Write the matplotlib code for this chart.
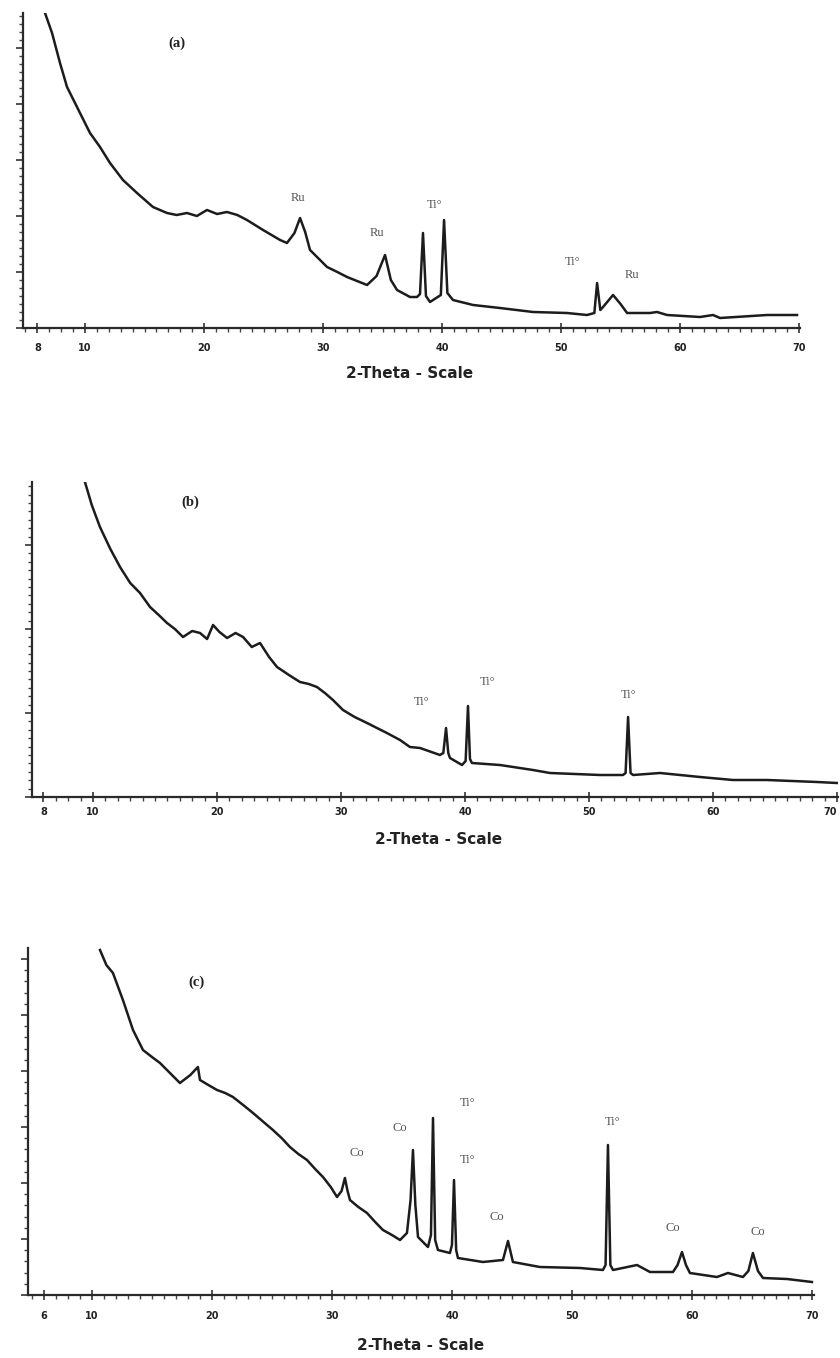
import matplotlib.pyplot as plt
from matplotlib.ticker import MultipleLocator

# (a) pattern
a_theta = [6.64, 7.23, 7.90, 8.49, 9.58, 10.42, 11.26, 12.10, 13.19, 14.37, 15.71, 16.89,
           17.7, 18.57, 19.4, 20.25, 21.1, 21.93, 22.8, 23.61, 24.96, 26.39, 26.97, 27.6,
           28.07, 28.5, 28.91, 30.34, 31.2, 32.02, 33.70, 34.5, 35.21, 35.7, 36.22, 37.31,
           37.9, 38.15, 38.40, 38.65, 38.99, 39.9, 40.17, 40.45, 40.92, 42.61, 44.87,
           47.65, 50.50, 52.18, 52.8, 53.03, 53.3, 53.53, 54.37, 55.0, 55.55, 57.48,
           58.07, 58.91, 61.68, 62.77, 63.36, 67.31, 69.83]
a_counts = [315, 295, 265, 241, 215, 195, 181, 165, 148, 135, 121, 115,
            113, 115, 112, 118, 114, 116, 113, 108, 98, 88, 85, 95,
            110, 96, 78, 61, 56, 51, 43, 52, 73, 48, 38, 31,
            31, 34, 95, 32, 26, 33, 108, 35, 28, 23, 20,
            16, 15, 13, 15, 45, 18, 21, 33, 24, 15, 15,
            16, 13, 11, 13, 10, 13, 13]
a_names = ['Ru', 'Ru', 'Ti°', 'Ti°', 'Ru']
a_name_theta = [27.9, 34.54, 39.41, 51.0, 55.97]
a_name_counts = [130, 95, 123, 66, 53]

# (b) pattern
b_theta = [9.35, 9.9, 10.56, 11.4, 12.18, 13.0, 13.79, 14.6, 15.3, 15.97, 16.6, 17.26,
           18.0, 18.63, 19.2, 19.68, 20.2, 20.81, 21.5, 22.1, 22.8, 23.47, 24.2, 24.84,
           25.8, 26.69, 27.4, 28.06, 28.7, 29.35, 30.16, 31.1, 32.1, 33.7, 34.76, 35.56,
           36.37, 37.98, 38.25, 38.47, 38.65, 38.79, 39.76, 40.05, 40.24, 40.4, 40.56,
           42.82, 45.48, 46.85, 50.89, 52.74, 52.95, 53.15, 53.35, 53.55, 55.73, 58.95,
           61.61, 64.35, 68.39, 70.0]
b_counts = [315, 292, 270, 248, 230, 214, 204, 190, 182, 174, 168, 160,
            166, 164, 158, 172, 165, 159, 164, 160, 150, 154, 140, 130,
            122, 115, 113, 110, 104, 97, 87, 80, 74, 64, 57, 50,
            49, 42, 44, 69, 44, 39, 32, 36, 91, 38, 34,
            32, 27, 24, 22, 22, 24, 80, 24, 22, 24, 20,
            17, 17, 15, 14]
b_names = ['Ti°', 'Ti°', 'Ti°']
b_name_theta = [36.53, 41.85, 53.15]
b_name_counts = [95, 115, 102]

# (c) pattern
c_theta = [10.67, 11.2, 11.75, 12.58, 13.42, 14.25, 15.0, 15.67, 16.5, 17.33, 18.2, 18.83,
           19.0, 19.7, 20.42, 21.1, 21.75, 22.6, 23.42, 24.2, 25.08, 25.8, 26.5, 27.2,
           27.92, 28.6, 29.25, 29.9, 30.42, 30.8, 31.08, 31.3, 31.5, 32.2, 32.92, 33.6,
           34.25, 35.0, 35.67, 36.25, 36.55, 36.75, 36.95, 37.17, 38.0, 38.25, 38.42,
           38.6, 38.83, 39.83, 40.0, 40.17, 40.35, 40.5, 42.58, 44.25, 44.67, 45.08,
           47.33, 50.67, 52.58, 52.8, 53.0, 53.2, 53.42, 55.42, 56.5, 58.42, 58.8,
           59.17, 59.5, 59.83, 62.08, 63.0, 64.25, 64.7, 65.08, 65.5, 65.92, 67.92, 70.0]
c_counts = [345, 330, 322, 295, 265, 245, 238, 232, 222, 212, 220, 228,
            215, 210, 205, 202, 198, 190, 182, 174, 165, 157, 148, 141,
            135, 126, 118, 108, 98, 104, 117, 104, 95, 88, 82, 73,
            65, 60, 55, 62, 95, 145, 90, 58, 48, 60, 177,
            55, 45, 42, 50, 115, 45, 37, 33, 35, 54, 33,
            28, 27, 25, 30, 150, 30, 25, 30, 23, 23, 30,
            43, 30, 22, 18, 22, 18, 24, 42, 24, 17, 16, 13]
c_names = ['Co', 'Co', 'Ti°', 'Ti°', 'Co', 'Ti°', 'Co', 'Co']
c_name_theta = [32.08, 35.67, 41.33, 41.33, 43.75, 53.42, 58.42, 65.5]
c_name_counts = [142, 167, 192, 135, 78, 173, 67, 63]

tick_pos = [6, 10, 20, 30, 40, 50, 60, 70]
tick_text_ab = ['8', '10', '20', '30', '40', '50', '60', '70']
tick_text_c = ['6', '10', '20', '30', '40', '50', '60', '70']

W, H = 840, 1358
fig = plt.figure(figsize=(W / 100, H / 100), dpi=100)


def panel(left, right, bottom, top, xlim, theta, counts, names, name_theta, name_counts,
          tag, tag_pos, tick_text, ymajor, yminor, xlabel_x, xlabel_y, pad):
    ax = fig.add_axes([left / W, 1 - bottom / H, (right - left) / W, (bottom - top) / H])
    ax.plot(theta, counts, color='#1c1c1c', lw=1.8, solid_joinstyle='round')
    ax.set_xlim(*xlim)
    ax.set_ylim(0, bottom - top)
    for s in ['top', 'right']:
        ax.spines[s].set_visible(False)
    for s in ['left', 'bottom']:
        ax.spines[s].set_color('#2a2a2a')
        ax.spines[s].set_linewidth(1.6)
    ax.set_xticks(tick_pos)
    ax.set_xticklabels(tick_text, fontsize=7, fontweight='heavy', family='DejaVu Sans',
                       color='#222')
    ax.xaxis.set_minor_locator(MultipleLocator(1))
    ax.yaxis.set_major_locator(MultipleLocator(ymajor))
    ax.yaxis.set_minor_locator(MultipleLocator(yminor))
    ax.set_yticklabels([])
    ax.tick_params(axis='x', which='major', direction='inout', length=7, width=1.2,
                   color='#333', pad=pad)
    ax.tick_params(axis='x', which='minor', direction='out', length=3, width=1.0, color='#444')
    ax.tick_params(axis='y', which='major', direction='out', length=5, width=1.2, color='#333')
    ax.tick_params(axis='y', which='minor', direction='out', length=3, width=1.0, color='#444')
    for n, t, c in zip(names, name_theta, name_counts):
        ax.text(t, c, n, fontsize=9, family='Liberation Serif', color='#555',
                ha='center', va='center')
    ax.text(tag_pos[0], tag_pos[1], tag, fontsize=10.5, family='Liberation Serif',
            fontweight='bold', color='#222', ha='center', va='center')
    fig.text(xlabel_x / W, 1 - xlabel_y / H, '2-Theta - Scale', fontsize=11,
             fontweight='heavy', family='DejaVu Sans', color='#222',
             ha='center', va='center')
    return ax


panel(23, 800, 328, 13, (4.79, 70.08), a_theta, a_counts, a_names, a_name_theta,
      a_name_counts, '(a)', (17.73, 285), tick_text_ab, 56, 8, 410, 373, 7)
ax_b = panel(32, 838, 797, 482, (5.08, 70.08), b_theta, b_counts, b_names, b_name_theta,
             b_name_counts, '(b)', (17.82, 295), tick_text_ab, 84, 8.4, 439, 840, 4)
# last label of (b) sits on the figure edge; keep it inside
ax_b.get_xticklabels()[-1].set_horizontalalignment('right')
panel(28, 814, 1295, 948, (4.67, 70.17), c_theta, c_counts, c_names, c_name_theta,
      c_name_counts, '(c)', (18.75, 313), tick_text_c, 56, 11.2, 421, 1345, 8)

fig.savefig('out.png', dpi=100, facecolor='white')
